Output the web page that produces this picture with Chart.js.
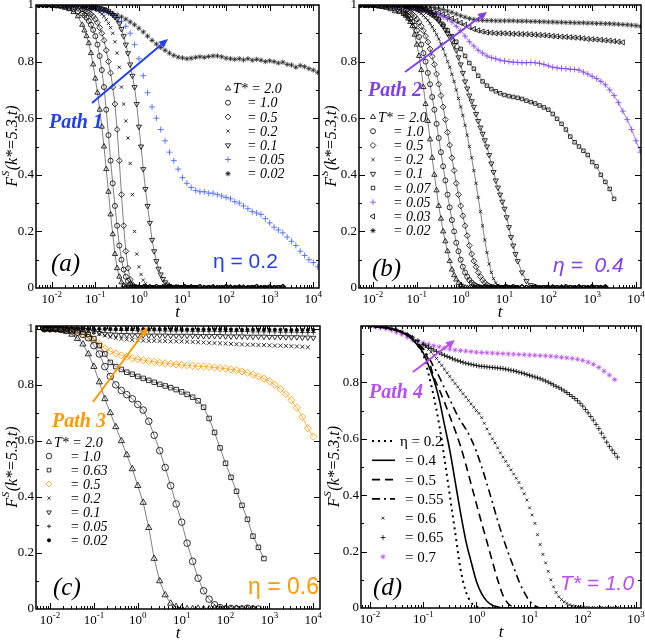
<!DOCTYPE html>
<html>
<head>
<meta charset="utf-8">
<script src="https://cdn.jsdelivr.net/npm/chart.js@4.4.1/dist/chart.umd.min.js"></script>
<style>
  body { margin: 0; background: #fff; width: 645px; height: 643px; position: relative; overflow: hidden; }
  canvas { position: absolute; }
</style>
</head>
<body>
<canvas id="pa" width="322" height="320" style="left:0;top:0"></canvas>
<canvas id="pb" width="323" height="320" style="left:322px;top:0"></canvas>
<canvas id="pc" width="322" height="323" style="left:0;top:320px"></canvas>
<canvas id="pd" width="323" height="323" style="left:322px;top:320px"></canvas>
<script>
// time grids (t)
const tAB = [0.005,0.0063,0.0079,0.01,0.0126,0.0158,0.02,0.0251,0.0316,0.0398,
  0.0501,0.0631,0.0794,0.1,0.126,0.158,0.2,0.251,0.316,0.398,
  0.501,0.631,0.794,1,1.26,1.58,2,2.51,3.16,3.98,
  5.01,6.31,7.94,10,12.6,15.8,20,25.1,31.6,39.8,
  50.1,63.1,79.4,100,126,158,200,251,316,398,
  501,631,794,1000,1260,1580,2000,2510,3160,3980,
  5010,6310,7940,10000,12600];
// finer sampling for the fast decays of (a) and (b)
const tFast = [0.005,0.0063,0.0079,0.01,0.0126,0.0158,0.02,0.0251,0.0316,0.0398,
  0.0501,0.0562,0.0631,0.0708,0.0794,0.0891,0.1,0.112,0.126,0.141,
  0.158,0.178,0.2,0.224,0.251,0.282,0.316,0.355,0.398,0.447,
  0.501,0.562,0.631,0.708,0.794,0.891,1,1.12,1.26,1.41,
  1.58,1.78,2,2.24,2.51,2.82,3.16,3.55,3.98,4.47,
  5.01,5.62,6.31,7.08,7.94,8.91,10,11.2,12.6,14.1,
  15.8,17.8,20,25.1,31.6,39.8,50.1,63.1,79.4,100,
  126,158,200,251,316,398,501,631,794,1000,
  1260,1580,2000];
const tC = [0.0075,0.01,0.0133,0.0178,0.0237,0.0316,0.0422,0.0562,0.075,0.1,
  0.133,0.178,0.237,0.316,0.422,0.562,0.75,1,1.33,1.78,
  2.37,3.16,4.22,5.62,7.5,10,13.3,17.8,23.7,31.6,
  42.2,56.2,75,100,133,178,237,316,422,562,
  750,1000,1330,1780,2370,3160,4220,5620,7500,10000];
const tD = [0.01,0.0126,0.0158,0.02,0.0251,0.0316,0.0398,0.0501,0.0631,0.0794,
  0.1,0.126,0.158,0.2,0.251,0.316,0.398,0.501,0.631,0.794,
  1,1.26,1.58,2,2.51,3.16,3.98,5.01,6.31,7.94,
  10,12.6,15.8,20,25.1,31.6,39.8,50.1,63.1,79.4,
  100,126,158,200,251,316,398,447];
const tD2 = [0.01,0.0126,0.0158,0.02,0.0251,0.0316,0.0398,0.0501,0.0631,0.0794,
  0.1,0.112,0.126,0.141,0.158,0.178,0.2,0.224,0.251,0.282,
  0.316,0.355,0.398,0.447,0.501,0.562,0.631,0.708,0.794,0.891,
  1,1.12,1.26,1.41,1.58,1.78,2,2.24,2.51,2.82,
  3.16,3.55,3.98,4.47,5.01,5.62,6.31,7.08,7.94,8.91,
  10,11.2,12.6,14.1,15.8,17.8,20,22.4,25.1,28.2,
  31.6,35.5,39.8,44.7,50.1,56.2,63.1,70.8,79.4,89.1,
  100,112,126,141,158,178,200,224,251,282,
  316,355,398,447];

// (a) eta = 0.2  (fast ones on tFast, slow ones on tAB)
const aT20 = [1,1,1,.998,.997,.995,.99,.985,.975,.96, .93,.91,.89,.865,.83,.79,.74,.69,.63,.57,
  .5,.42,.34,.26,.19,.12,.07,.04,.02,.01, .005,.002,0,.003,0,.002,0,0,.003,0, 0,.002,0,0,.003,0,0,.002,0,0,
  .003,0,0,0,.002,0,0,.003,0,0, .002,0,0,.003,0,0,.002,0,0,0, .003,0,0,.002,0,0,.003,0,0,.002, 0,0,.003];
const aT10 = [1,1,1,1,.998,.997,.995,.99,.986,.978, .97,.963,.955,.944,.93,.912,.89,.86,.82,.77,
  .71,.63,.54,.45,.37,.29,.22,.15,.1,.065, .04,.025,.013,.006,.002,0,.002,0,0,.003, 0,.002,0,0,.003,0,0,.002,0,0,
  .003,0,0,.002,0,0,0,.003,0,0, .002,0,0,.003,0,0,.002,0,0,.003, 0,0,.002,0,0,0,.003,0,0,.002, 0,0,.003];
const aT05 = [1,1,1,1,1,.998,.997,.995,.993,.99, .985,.982,.978,.973,.967,.96,.95,.937,.92,.9,
  .875,.84,.8,.76,.71,.65,.56,.45,.33,.22, .13,.07,.03,.012,.004,0,.002,0,0,.003, 0,.002,0,0,.003,0,0,.002,0,0,
  .003,0,0,.002,0,0,0,.003,0,0, .002,0,0,.003,0,0,.002,0,0,.003, 0,0,.002,0,0,0,.003,0,0,.002, 0,0,.003];
const aT02 = [1,1,1,1,1,1,.999,.998,.996,.993, .99,.989,.988,.987,.986,.986,.985,.98,.975,.968,
  .96,.948,.935,.92,.9,.87,.83,.78,.71,.65, .59,.53,.44,.33,.2,.12,.075,.048,.028,.015, .007,.003,0,.002,0,0,.003,0,0,.002,
  0,0,.003,0,0,.002,0,0,0,.003, 0,0,.002,0,0,.003,0,0,.002,0, 0,.003,0,0,.002,0,0,0,.003,0, 0,.002,0];
const aT01 = [1,1,1,1,1,1,1,1,.999,.998, .998,.998,.997,.996,.995,.994,.993,.991,.989,.987,
  .985,.982,.978,.972,.965,.958,.95,.935,.915,.89, .86,.83,.79,.75,.71,.65,.57,.5,.42,.35, .29,.23,.17,.13,.095,.068,.048,.032,.02,.012,
  .007,.003,0,.002,0,0,.003,0,0,.002, 0,0,.003,0,0,.002,0,0,0,.003, 0,0,.002,0,0,.003,0,0,.002,0, 0,.003,0];
const aT005 = [1,1,1,1,1,1,1,.999,.998,.997, .995,.993,.99,.987,.983,.978,.972,.965,.955,.943,
  .925,.9,.86,.81,.75,.69,.64,.6,.56,.52, .48,.45,.42,.39,.37,.355,.345,.34,.34,.335,
  .335,.33,.325,.32,.315,.305,.3,.29,.28,.27, .265,.26,.245,.23,.215,.205,.195,.18,.165,.15, .13,.115,.1,.09,.075];
const aT002 = [1,1,1,1,1,1,1,1,.999,.998, .997,.995,.993,.99,.985,.98,.975,.97,.965,.958,
  .95,.94,.93,.918,.905,.89,.875,.862,.85,.84, .83,.822,.816,.813,.81,.812,.815,.817,.815,.818,
  .82,.82,.817,.812,.81,.808,.81,.806,.81,.805, .808,.805,.8,.803,.8,.795,.798,.79,.788,.78, .786,.782,.775,.77,.762];

// (b) eta = 0.4
const bT20 = [1,1,1,.998,.996,.993,.99,.985,.978,.975, .968,.962,.952,.94,.925,.895,.86,.82,.77,.71,
  .65,.59,.525,.46,.4,.345,.29,.245,.2,.165, .13,.095,.065,.045,.03,.018,.01,.005,.002,0, 0,.002,0,0,.003,0,0,.002,0,0,
  .003,0,0,.002,0,0,0,.003,0,0, .002,0,0,.003,0,0,.002,0,0,.003, 0,0,.002,0,0,0,.003,0,0,.002, 0,0,.003];
const bT10 = [1,1,1,1,.998,.997,.995,.992,.988,.982, .975,.968,.96,.95,.94,.927,.91,.887,.86,.83,
  .8,.76,.72,.675,.63,.58,.53,.48,.43,.38, .33,.285,.24,.2,.16,.13,.1,.075,.055,.04, .028,.019,.012,.007,.004,.002,0,.003,0,0,
  .002,0,0,.003,0,0,0,.002,0,0, .003,0,0,.002,0,0,.003,0,0,0, .002,0,0,.003,0,0,.002,0,0,.003, 0,0,.002];
const bT05 = [1,1,1,1,1,.999,.998,.996,.994,.99, .985,.982,.978,.973,.967,.96,.95,.939,.925,.909,
  .89,.869,.845,.818,.79,.756,.72,.68,.64,.595, .55,.505,.46,.415,.37,.33,.29,.255,.22,.185, .15,.12,.095,.075,.055,.04,.028,.019,.012,.007,
  .004,.002,0,.003,0,0,.002,0,0,0, .003,0,0,.002,0,0,.003,0,0,0, .002,0,0,.003,0,0,.002,0,0,.003, 0,0,.002];
const bT02 = [1,1,1,1,1,1,1,.999,.998,.997, .995,.993,.99,.988,.985,.983,.98,.975,.97,.963,
  .955,.946,.935,.923,.91,.895,.88,.863,.845,.823, .8,.78,.755,.73,.7,.67,.64,.61,.575,.54, .5,.46,.415,.37,.32,.27,.22,.17,.125,.085,
  .055,.033,.018,.009,.004,.002,0,.003,0,.002, 0,0,.003,0,0,.002,0,0,0,.003, 0,0,.002,0,0,.003,0,0,.002,0, 0,.003,0];
const bT01 = [1,1,1,1,1,1,1,1,1,.999, .998,.997,.996,.994,.993,.992,.99,.988,.985,.983,
  .98,.975,.97,.965,.96,.953,.945,.935,.925,.913, .9,.888,.875,.858,.84,.815,.79,.76,.73,.705, .68,.66,.64,.615,.59,.567,.545,.522,.5,.47,
  .44,.41,.38,.355,.33,.305,.28,.25,.215,.18, .15,.12,.095,.055,.025,.01,.004,0,.003,0, 0,.002,0,0,.003,0,0,.002,0,0, .003,0,0];
const bT007 = [1,1,1,1,1,1,1,1,1,1, .999,.998,.997,.995,.99,.985,.975,.965,.95,.93,
  .91,.89,.87,.845,.82,.795,.775,.75,.73,.715, .703,.695,.688,.682,.678,.675,.672,.668,.662,.657,
  .652,.645,.638,.63,.615,.598,.58,.56,.535,.515, .5,.485,.47,.445,.43,.4,.375,.35,.315];
const bT005 = [1,1,1,1,1,1,1,1,.995,.99, .99,.988,.986,.984,.98,.978,.974,.97,.965,.958,
  .95,.94,.925,.91,.89,.87,.855,.84,.83,.82, .814,.81,.805,.802,.8,.798,.797,.796,.796,.797,
  .796,.794,.79,.785,.78,.778,.776,.775,.773,.772, .77,.763,.756,.748,.74,.73,.718,.7,.68,.655, .625,.595,.56,.52,.48];
const bT003 = [1,1,1,1,1,1,1,1,1,1, .998,.996,.994,.992,.99,.987,.983,.978,.973,.967,
  .96,.952,.944,.937,.93,.922,.915,.91,.906,.903, .902,.9,.9,.9,.899,.898,.898,.897,.897,.896,
  .895,.894,.893,.892,.89,.889,.888,.887,.886,.885, .884,.882,.88,.879,.878,.877,.875,.874,.872,.87, .868];
const bT002 = [1,1,1,1,1,1,1,1,1,1, 1,.999,.998,.997,.996,.995,.993,.991,.988,.984,
  .979,.974,.968,.962,.957,.952,.949,.947,.946,.945, .945,.944,.944,.944,.944,.944,.943,.943,.943,.942,
  .942,.941,.941,.94,.94,.939,.939,.938,.938,.937, .937,.937,.936,.936,.935,.935,.934,.934,.933,.932, .931,.93,.929,.927,.925];

// (c) eta = 0.6
const cT20 = [1,1,.998,.995,.99,.98,.965,.945,.91,.865, .81,.75,.7,.65,.6,.55,.5,.44,.38,.29,
  .18,.1,.05,.02,.008,.003,0,0,.002,0, 0,.003,0,0,0,.002,0,0,0];
const cT10 = [1,1,1,.998,.996,.993,.988,.98,.968,.94, .91,.865,.83,.8,.78,.765,.75,.73,.71,.67,
  .62,.565,.505,.44,.375,.31,.235,.17,.11,.065, .035,.015,.005,0,.002,0,0,.003,0,0];
const cT063 = [1,1,1,.999,.998,.996,.993,.988,.98,.965, .94,.91,.88,.865,.855,.845,.838,.83,.823,.816,
  .809,.802,.796,.79,.783,.775,.766,.756,.743,.72, .68,.63,.575,.52,.47,.42,.37,.32,.26,.22, .18];
const cT05 = [1,1,1,1,.998,.995,.99,.983,.973,.96, .945,.93,.92,.912,.905,.9,.895,.891,.888,.885,
  .882,.879,.877,.875,.873,.871,.87,.868,.866,.865, .864,.862,.86,.858,.855,.852,.848,.843,.836,.83,
  .822,.813,.8,.785,.767,.745,.718,.685,.645,.615];
const cT02 = [1,1,1,1,1,1,.999,.997,.993,.988, .982,.976,.971,.967,.964,.962,.96,.959,.958,.957,
  .957,.956,.956,.955,.955,.955,.954,.953,.952,.951, .95,.949,.948,.947,.946,.945,.944,.943,.943,.942,
  .942,.941,.94,.94,.939,.938,.937,.936,.934];
const cT01 = [1,1,1,1,1,1,1,.998,.995,.99, .985,.982,.98,.979,.978,.978,.977,.977,.977,.976,
  .976,.976,.976,.975,.975,.975,.975,.975,.974,.974, .974,.974,.974,.973,.973,.973,.973,.972,.972,.972,
  .972,.971,.971,.971,.97,.97,.97,.969,.969,.968];
const cT005 = [1,1,1,1,1,1,1,1,.999,.998, .997,.996,.995,.995,.994,.994,.994,.993,.993,.993,
  .993,.993,.992,.992,.992,.992,.992,.991,.991,.991, .991,.991,.99,.99,.99,.99,.99,.99,.989,.989,
  .989,.989,.989,.988,.988,.988,.988,.987,.987,.987];
const cT002 = [1,1,1,1,1,1,1,1,1,1, 1,1,1,.999,.999,.999,.999,.999,.999,.999,
  .999,.999,.999,.999,.998,.998,.998,.998,.998,.998, .998,.998,.998,.998,.998,.997,.997,.997,.997,.997,
  .997,.997,.997,.997,.996,.996,.996,.996,.996,.996];

// (d) T* = 1.0  (lines and eta = 0.7 on tD, eta = 0.6 / 0.65 on tD2)
const dE02 = [1,.998,.996,.994,.99,.985,.978,.968,.952,.93, .9,.83,.75,.65,.53,.4,.27,.14,.06,.02, .006,0,0,0,0];
const dE04 = [1,.998,.996,.994,.99,.985,.978,.968,.952,.93, .905,.86,.81,.74,.65,.56,.45,.34,.24,.165,
  .095,.05,.024,.01,.004,0,0,0,0,0, 0,0,0,0,0,0,0,0,0,0,0];
const dE05 = [1,.998,.996,.994,.99,.985,.978,.968,.955,.935, .912,.88,.82,.775,.73,.68,.63,.575,.51,.44,
  .37,.3,.235,.165,.1,.045,.015,.004,0,0, 0,0,0,0,0];
const dE055 = [1,.998,.996,.994,.99,.986,.98,.972,.96,.94, .92,.89,.855,.82,.78,.74,.7,.665,.635,.6,
  .555,.5,.44,.375,.31,.25,.195,.145,.095,.055, .025,.008,0,0,0,0,0];
const dE06 = [1,.999,.997,.995,.991,.986,.979,.97,.96,.948, .935,.926,.917,.907,.896,.885,.872,.86,.847,.834,
  .821,.808,.796,.784,.772,.76,.748,.736,.724,.712, .7,.69,.675,.655,.635,.617,.6,.585,.568,.55,
  .535,.52,.505,.49,.475,.46,.445,.425,.405,.383, .355,.33,.3,.26,.225,.19,.16,.13,.1,.075,
  .055,.04,.03,.022,.016,.011,.008,.006,.005,.004, .003,.002,.002,0,.002,0,.001,.002,0,.001, 0,.001,0,.002];
const dE065 = [1,.999,.997,.995,.991,.986,.979,.97,.96,.948, .935,.93,.925,.92,.915,.91,.905,.9,.896,.892,
  .888,.884,.88,.877,.874,.871,.868,.866,.864,.862, .86,.858,.857,.856,.855,.854,.853,.852,.851,.85,
  .849,.847,.845,.843,.841,.839,.836,.834,.831,.828, .825,.822,.819,.816,.813,.809,.805,.801,.796,.791,
  .786,.781,.776,.77,.764,.757,.75,.743,.735,.726, .716,.704,.692,.679,.666,.651,.636,.62,.604,.588, .573,.56,.548,.535];
const dE07 = [1,.997,.994,.99,.985,.978,.97,.96,.95,.943, .94,.935,.93,.926,.922,.918,.915,.913,.911,.909,
  .907,.906,.905,.904,.903,.902,.901,.9,.899,.898, .897,.896,.895,.894,.893,.891,.889,.887,.885,.882,
  .878,.872,.864,.853,.84,.826,.81];

// axis ticks
const decadesAC = [-2, -1, 0, 1, 2, 3, 4];
const decadesD = [-2, -1, 0, 1, 2, 3];
const yTicks = [0, 0.2, 0.4, 0.6, 0.8, 1];
const yTickLabels = ['0', '0.2', '0.4', '0.6', '0.8', '1'];
const yTickLabelsD = ['0', '0.2', '0.4', '0.6', '0.8', ''];

const BLUE = '#3a5cff', PURPLE = '#7f3ff0', ORANGE = '#ff9900', MAGENTA = '#b84ef0';
const SERIF = '"Liberation Serif", "DejaVu Serif", serif';
const SANS = '"Liberation Sans Narrow", "Liberation Sans", sans-serif';
const LINE = '#4a4a55';

const tri = { style: 'triangle', r: 3 }, circ = { style: 'circle', r: 2.5 }, dia = { style: 'rectRot', r: 2.9 };
const xx = { style: 'crossRot', r: 2.3 }, dtri = { style: 'triangle', rot: 180, r: 3 }, plus = { style: 'cross', r: 3 };
const star = { style: 'star', r: 2.6 }, sq = { style: 'rect', r: 2.5 }, ltri = { style: 'triangle', rot: -90, r: 3 };

function ds(grid, vals, o) {
  return {
    data: vals.map((v, i) => ({ x: grid[i], y: v })),
    showLine: !!o.line,
    borderColor: o.lineColor || LINE,
    borderWidth: o.lw || 0.7,
    borderDash: o.dash || [],
    cubicInterpolationMode: o.smooth ? 'monotone' : 'default',
    pointStyle: o.style || 'circle',
    pointRotation: o.rot || 0,
    pointRadius: o.style ? o.r : 0,
    pointBorderColor: o.color || '#000',
    pointBackgroundColor: o.fill || 'rgba(0,0,0,0)',
    pointBorderWidth: o.bw || 0.8,
  };
}

function marker(ctx, o, x, y) {
  if (!Chart.helpers || !Chart.helpers.drawPoint) return;
  ctx.save();
  ctx.strokeStyle = o.color || '#000';
  ctx.fillStyle = o.fill || 'rgba(0,0,0,0)';
  ctx.lineWidth = o.bw || 0.8;
  Chart.helpers.drawPoint(ctx, { pointStyle: o.style, rotation: o.rot || 0, radius: o.r, borderWidth: o.bw || 0.8 }, x, y);
  ctx.restore();
}

function arrow(ctx, x1, y1, x2, y2, color) {
  const ang = Math.atan2(y2 - y1, x2 - x1), L = 9, W = 4;
  const bx = x2 - L * Math.cos(ang), by = y2 - L * Math.sin(ang);
  ctx.strokeStyle = color; ctx.fillStyle = color; ctx.lineWidth = 2;
  ctx.beginPath(); ctx.moveTo(x1, y1); ctx.lineTo(bx, by); ctx.stroke();
  ctx.beginPath(); ctx.moveTo(x2, y2);
  ctx.lineTo(bx + W * Math.sin(ang), by - W * Math.cos(ang));
  ctx.lineTo(bx - W * Math.sin(ang), by + W * Math.cos(ang));
  ctx.closePath(); ctx.fill();
}

function decor(p) {
  return {
    id: 'decor',
    afterDraw(chart) {
      const ctx = chart.ctx, a = chart.chartArea, xs = chart.scales.x, ys = chart.scales.y;
      const ox = p.box.x, oy = p.box.y;
      ctx.save();
      // inward ticks on all sides
      ctx.strokeStyle = '#000'; ctx.lineWidth = 1;
      ctx.beginPath();
      for (let e = -3; e <= 4; e++) for (let m = 1; m < 10; m++) {
        const v = m * Math.pow(10, e);
        if (v <= xs.min || v >= xs.max) continue;
        const px = Math.round(xs.getPixelForValue(v)) + 0.5, len = m === 1 ? 6 : 3;
        ctx.moveTo(px, a.bottom); ctx.lineTo(px, a.bottom - len);
        ctx.moveTo(px, a.top); ctx.lineTo(px, a.top + len);
      }
      for (let k = 1; k <= 10; k++) {
        const v = k / 10;
        if (v >= ys.max) continue;
        const py = Math.round(ys.getPixelForValue(v)) + 0.5, len = k % 2 === 0 ? 6 : 3;
        ctx.moveTo(a.left, py); ctx.lineTo(a.left + len, py);
        ctx.moveTo(a.right, py); ctx.lineTo(a.right - len, py);
      }
      ctx.stroke();
      ctx.lineWidth = 1.5;
      ctx.strokeRect(a.left, a.top, a.right - a.left, a.bottom - a.top);

      // tick labels
      ctx.fillStyle = '#000'; ctx.textBaseline = 'alphabetic'; ctx.textAlign = 'left';
      p.decades.forEach((e) => {
        const px = xs.getPixelForValue(Math.pow(10, e));
        const sup = e < 0 ? '-' + (-e) : String(e);
        ctx.font = '13px ' + SERIF; const wb = ctx.measureText('10').width;
        ctx.font = '9px ' + SERIF; const ws = ctx.measureText(sup).width;
        const x0 = px - (wb + ws) / 2;
        ctx.font = '13px ' + SERIF; ctx.fillText('10', x0, a.bottom + 15);
        ctx.font = '9px ' + SERIF; ctx.fillText(sup, x0 + wb, a.bottom + 9);
      });
      ctx.font = '13px ' + SERIF; ctx.textAlign = 'right'; ctx.textBaseline = 'middle';
      yTicks.forEach((v, i) => ctx.fillText(p.yLabels[i], a.left - 2, ys.getPixelForValue(v)));

      // axis titles
      ctx.textAlign = 'center'; ctx.textBaseline = 'alphabetic';
      ctx.font = 'italic 17px ' + SERIF;
      ctx.fillText('t', (a.left + a.right) / 2, a.bottom + 29);
      ctx.save();
      ctx.translate(p.yTitle[0] - ox, (a.top + a.bottom) / 2);
      ctx.rotate(-Math.PI / 2);
      ctx.textAlign = 'left';
      ctx.font = 'italic 16px ' + SERIF; const wF = ctx.measureText('F').width, wR = ctx.measureText('(k*=5.3,t)').width;
      ctx.font = 'italic 11px ' + SERIF; const wS = ctx.measureText('S').width;
      const x0 = -(wF + wS + wR) / 2;
      ctx.font = 'italic 16px ' + SERIF; ctx.fillText('F', x0, 5); ctx.fillText('(k*=5.3,t)', x0 + wF + wS + 1, 5);
      ctx.font = 'italic 11px ' + SERIF; ctx.fillText('S', x0 + wF + 0.5, -3);
      ctx.restore();

      // panel tag and condition label
      ctx.textAlign = 'left';
      ctx.fillStyle = '#000'; ctx.font = 'italic 25px ' + SERIF;
      ctx.fillText(p.tag, p.tagAt[0] - ox, p.tagAt[1] - oy);
      ctx.fillStyle = p.color; ctx.font = p.condFont;
      ctx.fillText(p.cond, p.condAt[0] - ox, p.condAt[1] - oy);

      // path arrow
      ctx.font = 'italic bold 20px ' + SERIF;
      ctx.fillText(p.path, p.pathAt[0] - ox, p.pathAt[1] - oy);
      arrow(ctx, p.arrow[0] - ox, p.arrow[1] - oy, p.arrow[2] - ox, p.arrow[3] - oy, p.color);

      // legend
      const L = p.legend;
      ctx.textBaseline = 'middle';
      L.rows.forEach((r, i) => {
        const y = L.y0 + i * L.dy - oy;
        if (r.lineLegend) {
          ctx.save();
          ctx.strokeStyle = '#000'; ctx.lineWidth = r.lw; ctx.setLineDash(r.dash || []);
          ctx.beginPath(); ctx.moveTo(L.lx[0] - ox, y); ctx.lineTo(L.lx[1] - ox, y); ctx.stroke();
          ctx.restore();
        } else {
          marker(ctx, r, L.mx - ox, y);
        }
        ctx.fillStyle = '#000'; ctx.font = L.font;
        ctx.fillText(L.texts[i], (i === 0 ? L.tx0 : L.tx1) - ox, y + 1);
      });
      ctx.restore();
    },
  };
}

function makePanel(id, p, datasets) {
  const b = p.box, ar = p.area;
  new Chart(document.getElementById(id), {
    type: 'scatter',
    data: { datasets },
    options: {
      responsive: false, animation: false, devicePixelRatio: 1, events: [],
      layout: { autoPadding: false, padding: { left: 0, top: ar.t - b.y, right: b.x + b.w - ar.r, bottom: 0 } },
      plugins: { legend: { display: false }, tooltip: { enabled: false } },
      scales: {
        x: {
          type: 'logarithmic', min: p.xmin, max: p.xmax,
          grid: { display: false }, border: { display: false }, ticks: { display: false },
          afterFit: (s) => { s.height = b.y + b.h - ar.b; s.paddingLeft = 0; s.paddingRight = 0; },
        },
        y: {
          min: 0, max: p.ymax,
          grid: { display: false }, border: { display: false }, ticks: { display: false },
          afterFit: (s) => { s.width = ar.l - b.x; s.paddingTop = 0; s.paddingBottom = 0; },
        },
      },
    },
    plugins: [decor(p)],
  });
}

// (a)
makePanel('pa', {
  box: { x: 0, y: 0, w: 322, h: 320 }, area: { l: 36, r: 319, t: 5, b: 288 },
  xmin: 0.00436, xmax: 13500, ymax: 1, decades: decadesAC, yLabels: yTickLabels, yTitle: [12],
  tag: '(a)', tagAt: [51, 271], cond: 'η = 0.2', condAt: [213, 268], condFont: '21px ' + SANS, color: '#2040f0',
  path: 'Path 1', pathAt: [49, 128], arrow: [92, 103, 168, 39],
  legend: { mx: 228, tx0: 233, tx1: 247, y0: 88.5, dy: 14.2, font: 'italic 14px ' + SERIF,
    texts: ['T* = 2.0', '= 1.0', '= 0.5', '= 0.2', '= 0.1', '= 0.05', '= 0.02'],
    rows: [tri, circ, dia, xx, dtri, Object.assign({}, plus, { color: BLUE }), star] },
}, [
  ds(tFast, aT20, Object.assign({ line: true }, tri)),
  ds(tFast, aT10, Object.assign({ line: true }, circ)),
  ds(tFast, aT05, Object.assign({ line: true }, dia)),
  ds(tFast, aT02, Object.assign({}, xx)),
  ds(tFast, aT01, Object.assign({ line: true }, dtri)),
  ds(tAB, aT005, Object.assign({ color: BLUE }, plus)),
  ds(tAB, aT002, Object.assign({ color: '#222' }, star)),
]);

// (b)
makePanel('pb', {
  box: { x: 322, y: 0, w: 323, h: 320 }, area: { l: 359, r: 641, t: 5, b: 288 },
  xmin: 0.00479, xmax: 13000, ymax: 1, decades: decadesAC, yLabels: yTickLabels, yTitle: [331],
  tag: '(b)', tagAt: [372, 276], cond: 'η =  0.4', condAt: [553, 272], condFont: 'italic 21px ' + SANS, color: PURPLE,
  path: 'Path 2', pathAt: [368, 96], arrow: [405, 72, 487, 12],
  legend: { mx: 373, tx0: 378, tx1: 393, y0: 117, dy: 14.2, font: 'italic 14px ' + SERIF,
    texts: ['T* = 2.0', '= 1.0', '= 0.5', '= 0.2', '= 0.1', '= 0.07', '= 0.05', '= 0.03', '= 0.02'],
    rows: [tri, circ, dia, xx, dtri, sq, Object.assign({}, plus, { color: PURPLE }), ltri, star] },
}, [
  ds(tFast, bT20, Object.assign({ line: true }, tri)),
  ds(tFast, bT10, Object.assign({ line: true }, circ)),
  ds(tFast, bT05, Object.assign({ line: true }, dia)),
  ds(tFast, bT02, Object.assign({ line: true }, xx)),
  ds(tFast, bT01, Object.assign({ line: true }, dtri)),
  ds(tAB, bT007, Object.assign({ line: true }, sq)),
  ds(tAB, bT005, Object.assign({ line: true, lineColor: PURPLE, color: PURPLE }, plus)),
  ds(tAB, bT003, Object.assign({ line: true }, ltri)),
  ds(tAB, bT002, Object.assign({ color: '#222' }, star)),
]);

// (c)
const triC = { style: 'triangle', r: 3.6 }, circC = { style: 'circle', r: 3.3 }, sqC = { style: 'rect', r: 3.2 };
const diaC = { style: 'rectRot', r: 3.6, color: ORANGE }, xxC = { style: 'crossRot', r: 2.8 };
const dtriC = { style: 'triangle', rot: 180, r: 3 }, plusC = { style: 'cross', r: 2.4 }, dotC = { style: 'circle', r: 1.6, fill: '#000' };
makePanel('pc', {
  box: { x: 0, y: 320, w: 322, h: 323 }, area: { l: 36, r: 320, t: 326, b: 609 },
  xmin: 0.0048, xmax: 14200, ymax: 1.01, decades: decadesAC, yLabels: yTickLabels, yTitle: [12],
  tag: '(c)', tagAt: [53, 595], cond: 'η = 0.6', condAt: [248, 594], condFont: '23px ' + SANS, color: ORANGE,
  path: 'Path 3', pathAt: [52, 427], arrow: [93, 402, 148, 327],
  legend: { mx: 49, tx0: 54, tx1: 70, y0: 442, dy: 14.05, font: 'italic 14px ' + SERIF,
    texts: ['T* = 2.0', '= 1.0', '= 0.63', '= 0.5', '= 0.2', '= 0.1', '= 0.05', '= 0.02'],
    rows: [Object.assign({}, triC, { r: 3 }), Object.assign({}, circC, { r: 2.8 }), Object.assign({}, sqC, { r: 2.6 }),
      Object.assign({}, diaC, { r: 3 }), Object.assign({}, xxC, { r: 2.3 }), Object.assign({}, dtriC, { r: 2.6 }),
      Object.assign({}, plusC, { r: 2 }), dotC] },
}, [
  ds(tC, cT20, Object.assign({ line: true }, triC)),
  ds(tC, cT10, Object.assign({ line: true }, circC)),
  ds(tC, cT063, Object.assign({ line: true }, sqC)),
  ds(tC, cT05, Object.assign({ line: true, lineColor: ORANGE }, diaC)),
  ds(tC, cT02, Object.assign({}, xxC)),
  ds(tC, cT01, Object.assign({}, dtriC)),
  ds(tC, cT005, Object.assign({}, plusC)),
  ds(tC, cT002, Object.assign({}, dotC)),
]);

// (d)
const xxD = { style: 'crossRot', r: 2 }, plusD = { style: 'cross', r: 2.5 }, starD = { style: 'star', r: 2.6, color: MAGENTA };
makePanel('pd', {
  box: { x: 322, y: 320, w: 323, h: 323 }, area: { l: 361, r: 641, t: 326, b: 608 },
  xmin: 0.00678, xmax: 1242, ymax: 1, decades: decadesD, yLabels: yTickLabelsD, yTitle: [334],
  tag: '(d)', tagAt: [373, 595], cond: 'T* = 1.0', condAt: [560, 590], condFont: 'italic 21px ' + SANS, color: MAGENTA,
  path: 'Path 4', pathAt: [369, 398], arrow: [413, 372, 455, 340],
  legend: { mx: 383, lx: [372, 395], tx0: 400, tx1: 405, y0: 441, dy: 19.3, font: '15px ' + SERIF,
    texts: ['η = 0.2', '= 0.4', '= 0.5', '= 0.55', '= 0.6', '= 0.65', '= 0.7'],
    rows: [{ lineLegend: true, lw: 2, dash: [2, 4] }, { lineLegend: true, lw: 1.6 }, { lineLegend: true, lw: 1.6, dash: [8, 5] },
      { lineLegend: true, lw: 1.6, dash: [8, 4, 2, 4] }, xxD, plusD, starD] },
}, [
  ds(tD, dE02, { line: true, lineColor: '#000', lw: 2, dash: [2, 4], smooth: true }),
  ds(tD, dE04, { line: true, lineColor: '#000', lw: 1.6, smooth: true }),
  ds(tD, dE05, { line: true, lineColor: '#000', lw: 1.6, dash: [8, 5], smooth: true }),
  ds(tD, dE055, { line: true, lineColor: '#000', lw: 1.6, dash: [8, 4, 2, 4], smooth: true }),
  ds(tD2, dE06, Object.assign({}, xxD)),
  ds(tD2, dE065, Object.assign({}, plusD)),
  ds(tD, dE07, Object.assign({}, starD)),
]);
</script>
</body>
</html>
